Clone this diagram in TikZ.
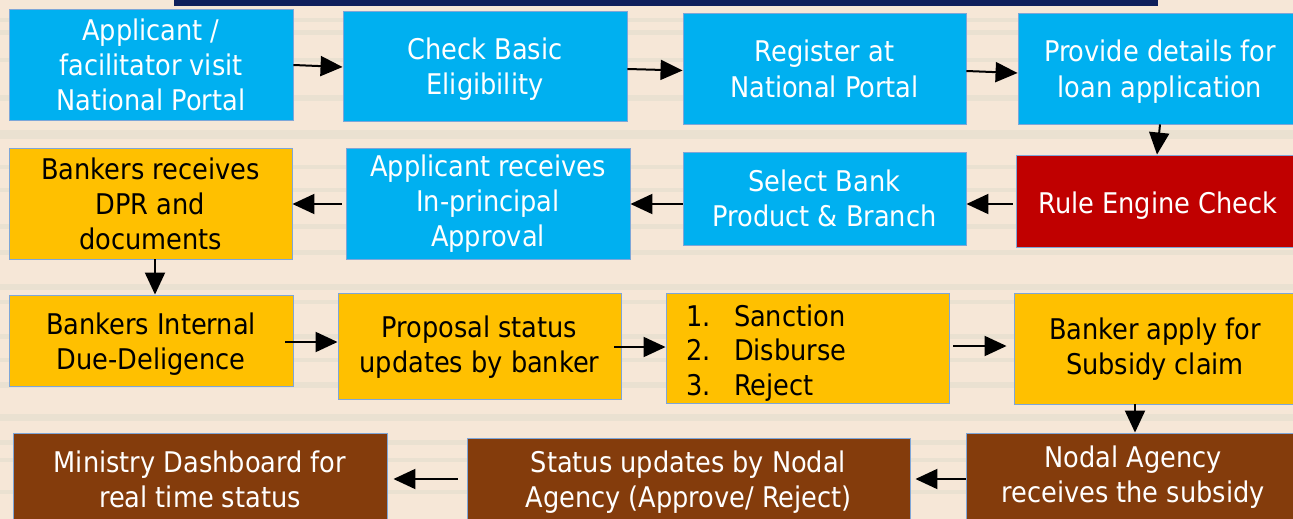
\documentclass[tikz,border=0pt]{standalone}
\usepackage{fontspec}
\setmainfont{DejaVuSansCondensed.ttf}
\usetikzlibrary{arrows.meta}
\definecolor{bgbase}{HTML}{F6E7D7}
\definecolor{bgband}{HTML}{D6D6C6}
\definecolor{navy}{HTML}{0E1F5B}
\definecolor{cblue}{HTML}{00B0F0}
\definecolor{cred}{HTML}{C00000}
\definecolor{cyel}{HTML}{FFC000}
\definecolor{cbrown}{HTML}{843C0C}
\definecolor{cedge}{HTML}{7EA6D8}
\newcommand\twol[2][-4pt]{\raisebox{#1}[\height][\depth]{\begin{tabular}{@{}c@{}}#2\end{tabular}}}
\tikzset{
  box/.style={draw=cedge, line width=0.9pt, rectangle, align=center, inner sep=2pt,
    font=\fontsize{28.5}{35}\selectfont, execute at begin node={\rule{0pt}{31pt}}},
  bluebox/.style={box, fill=cblue, text=white},
  redbox/.style={box, fill=cred, text=white},
  yelbox/.style={box, fill=cyel, text=black},
  brownbox/.style={box, fill=cbrown, text=white},
  arr/.style={line width=2pt, -{Stealth[length=22pt,width=20pt,inset=0pt]}},
}
\begin{document}
\begin{tikzpicture}[x=1pt,y=-1pt]
\useasboundingbox (0,0) rectangle (1293,519);
\begin{scope}
\clip (0,0) rectangle (1293,519);
% background
\fill[bgbase] (0,0) rectangle (1293,519);
\foreach \yy/\hh in {18/4,30/5,58/4,95/6,130/9,165/4,188/4,224/5,250/5,284/6,300/4,334/5,358/4,382/6,414/7,440/5,458/4,490/4}{
  \fill[bgband,opacity=0.35] (0,\yy) rectangle (1293,\yy+\hh);
}
\fill[navy] (174,0) rectangle (1158,6);
% row 1
\node[bluebox, minimum width=284, minimum height=111] (A) at (151,64.5) {Applicant /\\facilitator visit\\National Portal};
\node[bluebox, minimum width=284, minimum height=110] (B) at (485,66) {\twol{Check Basic\\Eligibility}};
\node[bluebox, minimum width=283, minimum height=111] (C) at (824.5,68.5) {\twol{Register at\\National Portal}};
\node[bluebox, minimum width=284, minimum height=111] (D) at (1160,68.5) {\twol{Provide details for\\loan application}};
% row 2
\node[redbox, minimum width=284, minimum height=92] (E) at (1158,201) {Rule Engine Check};
\node[bluebox, minimum width=283, minimum height=93] (F) at (824.5,198.5) {\twol[-3.5pt]{Select Bank\\Product \& Branch}};
\node[bluebox, minimum width=284, minimum height=111] (G) at (488,203.5) {Applicant receives\\In-principal\\Approval};
\node[yelbox, minimum width=283, minimum height=111] (H) at (150.5,203.5) {Bankers receives\\DPR and\\documents};
% row 3
\node[yelbox, minimum width=284, minimum height=91] (I) at (151,340.5) {\twol{Bankers Internal\\Due-Deligence}};
\node[yelbox, minimum width=283, minimum height=106] (J) at (479.5,346) {\twol[-2pt]{Proposal status\\updates by banker}};
\node[yelbox, minimum width=283, minimum height=110, align=left, inner xsep=20pt, text width=243pt,
  font=\fontsize{28.5}{34.5}\selectfont] (K) at (807.5,348)
  {\makebox[48pt][l]{1.}Sanction\\\makebox[48pt][l]{2.}Disburse\\\makebox[48pt][l]{3.}Reject};
\node[yelbox, minimum width=282, minimum height=111] (L) at (1155,348.5) {\twol[-1.5pt]{Banker apply for\\Subsidy claim}};
% row 4
\node[brownbox, minimum width=334, minimum height=92] (M) at (1133,479) {\twol[1pt]{Nodal Agency\\receives the subsidy}};
\node[brownbox, minimum width=443, minimum height=88] (N) at (688.5,482) {\twol[-1pt]{Status updates by Nodal\\Agency (Approve/ Reject)}};
\node[brownbox, minimum width=374, minimum height=96] (O) at (200,481) {\twol[-1.5pt]{Ministry Dashboard for\\real time status}};
% arrows
\draw[arr] (A.east |- 0,65) -- (B.west |- 0,67);
\draw[arr] (B.east |- 0,69) -- (C.west |- 0,70.5);
\draw[arr] (C.east |- 0,71) -- (D.west |- 0,73);
\draw[arr] (D.south -| 1160,0) -- (E.north -| 1157,0);
\draw[arr] ([xshift=-3pt]E.west |- 0,204) -- (F.east |- 0,204);
\draw[arr] (F.west |- 0,204) -- (G.east |- 0,204);
\draw[arr] ([xshift=-4pt]G.west |- 0,204) -- (H.east |- 0,204);
\draw[arr] (H.south -| 155,0) -- (I.north -| 155,0);
\draw[arr] ([xshift=-8pt]I.east |- 0,342) -- (J.west |- 0,342);
\draw[arr] ([xshift=-7pt]J.east |- 0,347) -- (K.west |- 0,347);
\draw[arr] ([xshift=4pt]K.east |- 0,346) -- ([xshift=-7pt]L.west |- 0,346);
\draw[arr] (L.south -| 1135,0) -- (M.north -| 1135,0);
\draw[arr] (M.west |- 0,479) -- ([xshift=5pt]N.east |- 0,479);
\draw[arr] ([xshift=-9pt]N.west |- 0,479) -- ([xshift=6pt]O.east |- 0,479);
\end{scope}
\end{tikzpicture}
\end{document}
